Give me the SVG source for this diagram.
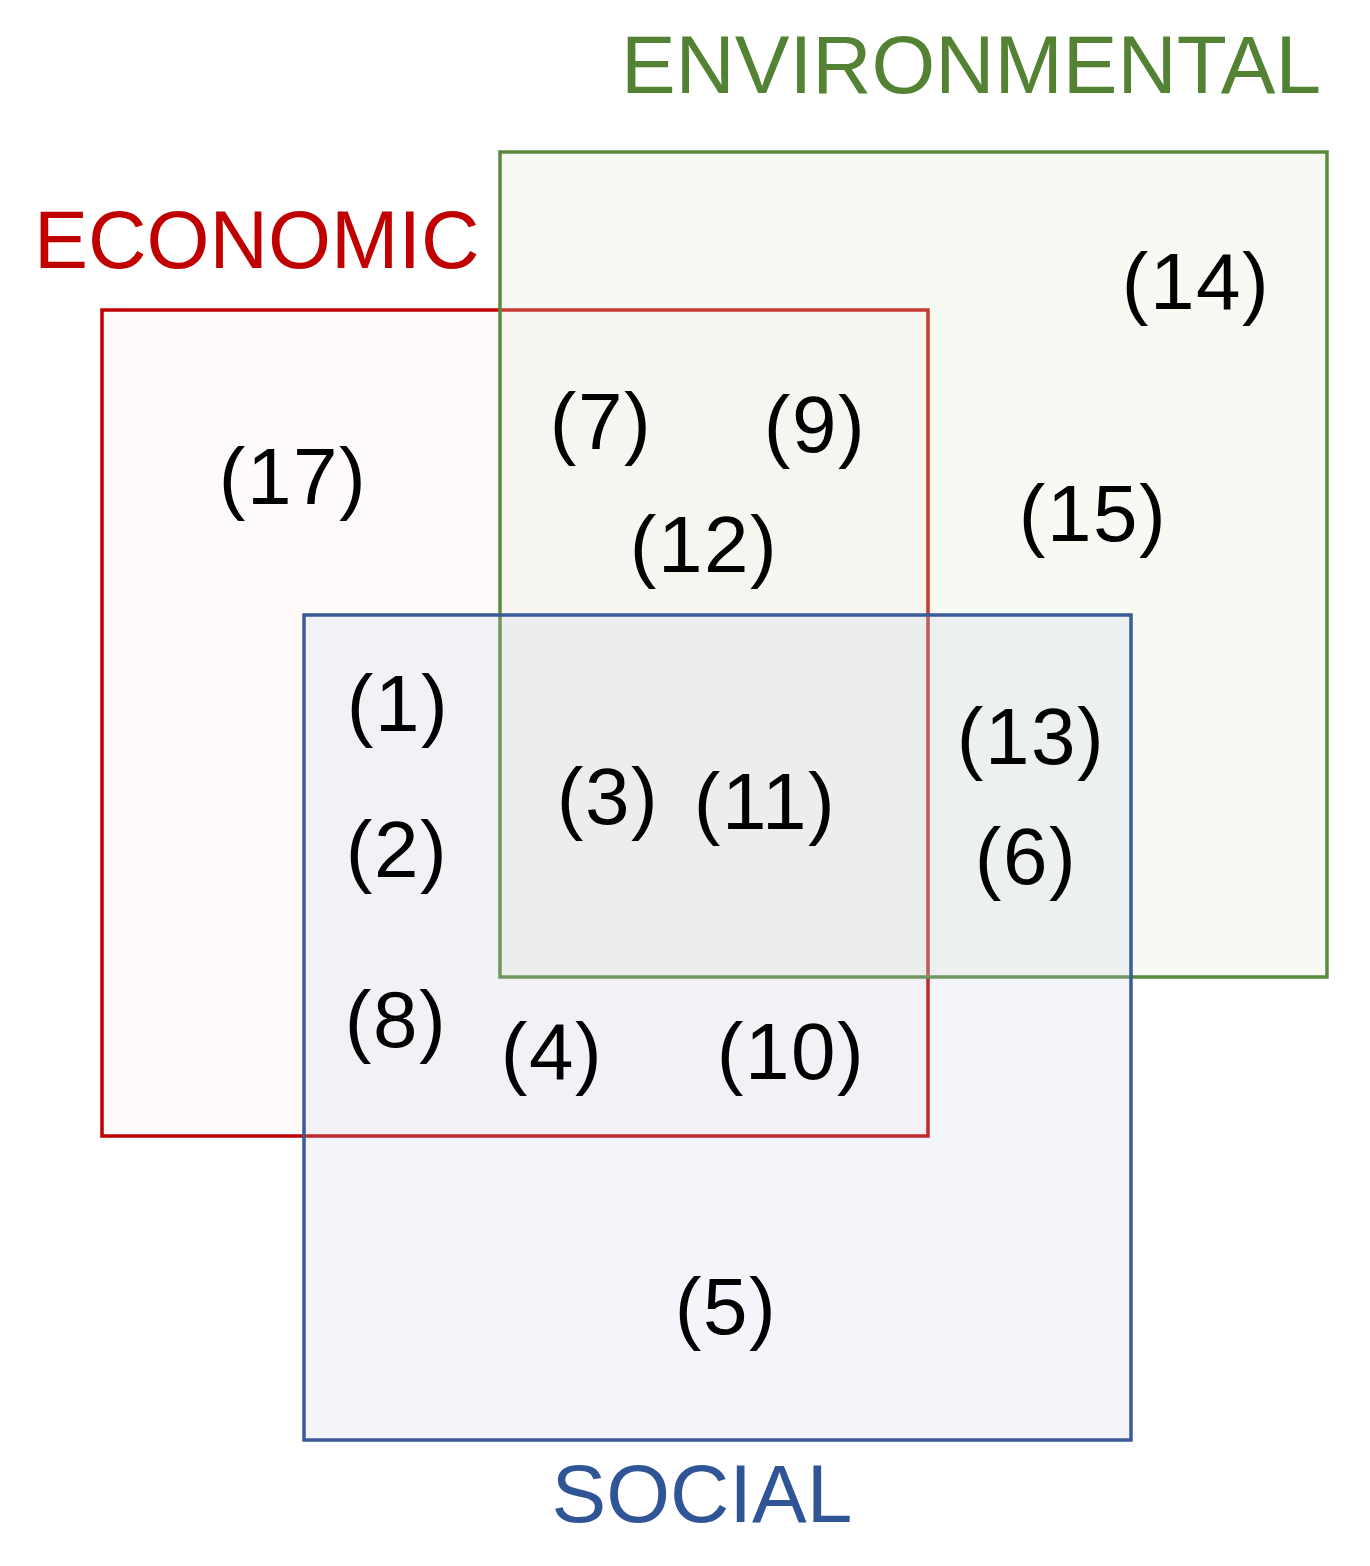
<svg xmlns="http://www.w3.org/2000/svg" width="1370" height="1566" viewBox="0 0 1370 1566">
<style>
.lbl{font-family:"Liberation Sans",Arial,sans-serif;font-size:80px;fill:#000;text-anchor:middle;letter-spacing:1.5px}
.ttl{font-family:"Liberation Sans",Arial,sans-serif;font-size:82px}
.box{stroke-width:3.5}
</style>
<rect width="1370" height="1566" fill="#fff"/>
<g id="economic">
<rect class="box" x="102" y="310" width="826" height="826" fill="#fffafa" stroke="#c00000"/>
<text class="ttl" x="34" y="268" fill="#c00000" style="font-size:81px">ECONOMIC</text>
</g>
<g id="environmental">
<rect class="box" x="500" y="152" width="827" height="825" fill="#dfe8d0" fill-opacity="0.25" stroke="#5b8a3e"/>
<text class="ttl" x="1321" y="93" fill="#548235" text-anchor="end">ENVIRONMENTAL</text>
</g>
<g id="social">
<rect class="box" x="304" y="615" width="827" height="825" fill="#c5cde8" fill-opacity="0.2" stroke="#3a5a98"/>
<text class="ttl" x="702" y="1522" fill="#2f5597" text-anchor="middle">SOCIAL</text>
</g>
<g id="connectors"></g>
<g id="labels">
<text class="lbl" x="1196" y="309">(14)</text>
<text class="lbl" x="601" y="449">(7)</text>
<text class="lbl" x="815" y="452">(9)</text>
<text class="lbl" x="293" y="504">(17)</text>
<text class="lbl" x="1093" y="541">(15)</text>
<text class="lbl" x="704" y="572">(12)</text>
<text class="lbl" x="398" y="731">(1)</text>
<text class="lbl" x="1031" y="764">(13)</text>
<text class="lbl" x="608" y="824">(3)</text>
<text class="lbl" x="765" y="829">(11)</text>
<text class="lbl" x="397" y="877">(2)</text>
<text class="lbl" x="1026" y="884">(6)</text>
<text class="lbl" x="396" y="1047">(8)</text>
<text class="lbl" x="552" y="1079">(4)</text>
<text class="lbl" x="791" y="1079">(10)</text>
<text class="lbl" x="726" y="1334">(5)</text>
</g>
</svg>
